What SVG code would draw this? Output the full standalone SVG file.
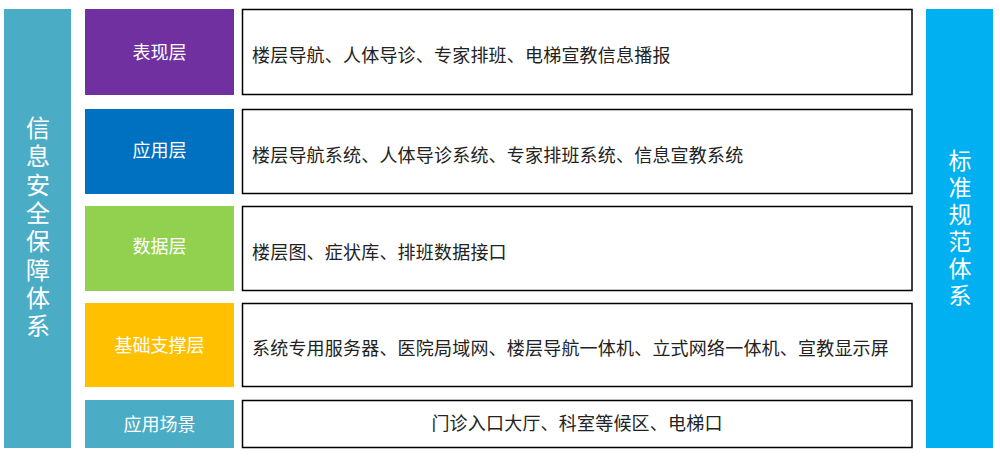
<svg xmlns="http://www.w3.org/2000/svg" width="1000" height="458" viewBox="0 0 1000 458">
<style>
text{font-family:"Noto Sans CJK SC","Noto Sans",sans-serif;}
.lab{fill:#fff;font-size:18px;text-anchor:middle;}
.side{fill:#fff;font-size:24px;writing-mode:vertical-rl;text-orientation:upright;}
.body{fill:#222;font-size:18px;letter-spacing:0.2px;}
.box{fill:#fff;stroke:#000;stroke-width:1.5;}
</style>
<rect width="1000" height="458" fill="#fff"/>
<g id="left-bar">
<rect x="4" y="9" width="67" height="439" fill="#4BACC6"/>
<text class="side" x="38" y="116" style="letter-spacing:4.3px">信息安全保障体系</text>
</g>
<g id="right-bar">
<rect x="926" y="9" width="67" height="439" fill="#00B0F0"/>
<text class="side" x="960" y="149" style="font-size:23px;letter-spacing:4px">标准规范体系</text>
</g>
<g id="row1">
<rect x="85" y="9" width="149" height="86" fill="#7030A0"/>
<text class="lab" x="159.5" y="59">表现层</text>
<rect class="box" x="242.5" y="9.5" width="669.5" height="85"/>
<text class="body" x="252" y="62">楼层导航、人体导诊、专家排班、电梯宣教信息播报</text>
</g>
<g id="row2">
<rect x="85" y="109" width="149" height="85" fill="#0070C0"/>
<text class="lab" x="159.5" y="157">应用层</text>
<rect class="box" x="242.5" y="109.5" width="669.5" height="84"/>
<text class="body" x="252" y="162">楼层导航系统、人体导诊系统、专家排班系统、信息宣教系统</text>
</g>
<g id="row3">
<rect x="85" y="206" width="149" height="85" fill="#92D050"/>
<text class="lab" x="159.5" y="253">数据层</text>
<rect class="box" x="242.5" y="206.5" width="669.5" height="84"/>
<text class="body" x="252" y="258.5">楼层图、症状库、排班数据接口</text>
</g>
<g id="row4">
<rect x="85" y="303" width="149" height="84" fill="#FFC000"/>
<text class="lab" x="159.5" y="352">基础支撑层</text>
<rect class="box" x="242.5" y="303.5" width="669.5" height="83"/>
<text class="body" x="252" y="355">系统专用服务器、医院局域网、楼层导航一体机、立式网络一体机、宣教显示屏</text>
</g>
<g id="row5">
<rect x="85" y="400" width="149" height="48" fill="#4BACC6"/>
<text class="lab" x="159.5" y="431">应用场景</text>
<rect class="box" x="242.5" y="400.5" width="669.5" height="47"/>
<text class="body" x="577" y="430" text-anchor="middle">门诊入口大厅、科室等候区、电梯口</text>
</g>
<g id="connectors"></g>
</svg>
